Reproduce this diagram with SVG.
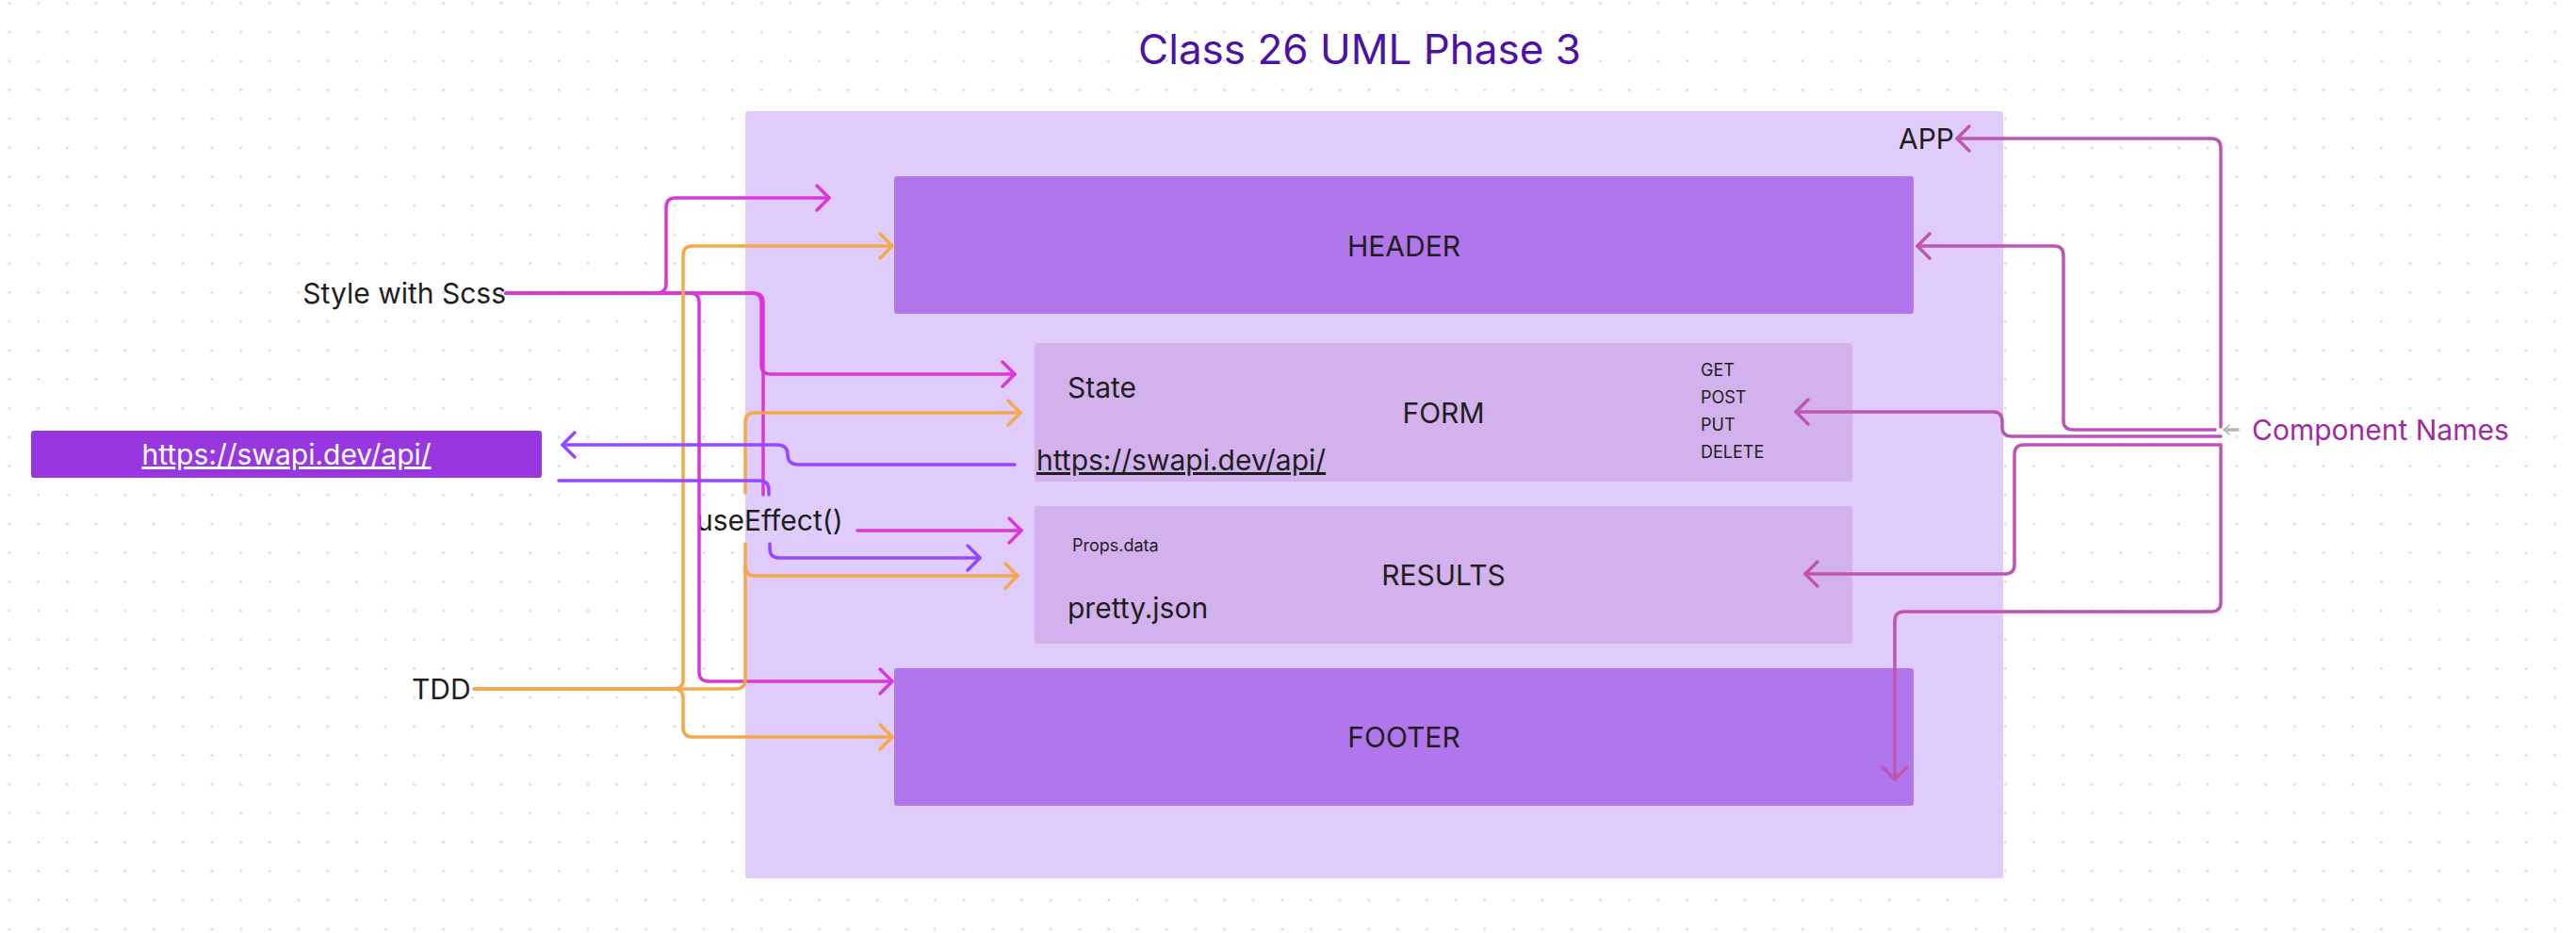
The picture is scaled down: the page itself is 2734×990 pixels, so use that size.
<svg xmlns="http://www.w3.org/2000/svg" width="2734" height="990" viewBox="0 0 2734 990">
  <style>
    .lbl { font-family: Inter, "Liberation Sans", sans-serif; fill: #1E1E1E; }
    .big { font-size: 30px; }
    .small { font-size: 18px; }
    .c { text-anchor: middle; }
    .conn path { fill: none; stroke-width: 3.5; stroke-linecap: round; stroke-linejoin: round; }
    .mag { stroke: #DA36DA; }
    .ora { stroke: #F4A84A; }
    .pur { stroke: #9747FF; }
    .pnk { stroke: #BE55B3; }
  </style>
  <defs>
    <pattern id="dots" x="-5.35" y="-12" width="30.7" height="30.7" patternUnits="userSpaceOnUse">
      <circle cx="15.35" cy="15.35" r="1.3" fill="#D2D2D2"/>
    </pattern>
    <marker id="aMag" markerUnits="userSpaceOnUse" orient="auto" markerWidth="30" markerHeight="30" refX="0" refY="0" viewBox="-15 -15 30 30" overflow="visible">
      <path d="M-13,-13 L0,0 L-13,13" fill="none" stroke="#DA36DA" stroke-width="3.5" stroke-linecap="round" stroke-linejoin="round"/>
    </marker>
    <marker id="aOra" markerUnits="userSpaceOnUse" orient="auto" markerWidth="30" markerHeight="30" refX="0" refY="0" viewBox="-15 -15 30 30" overflow="visible">
      <path d="M-13,-13 L0,0 L-13,13" fill="none" stroke="#F4A84A" stroke-width="3.5" stroke-linecap="round" stroke-linejoin="round"/>
    </marker>
    <marker id="aPur" markerUnits="userSpaceOnUse" orient="auto" markerWidth="30" markerHeight="30" refX="0" refY="0" viewBox="-15 -15 30 30" overflow="visible">
      <path d="M-13,-13 L0,0 L-13,13" fill="none" stroke="#9747FF" stroke-width="3.5" stroke-linecap="round" stroke-linejoin="round"/>
    </marker>
    <marker id="aPnk" markerUnits="userSpaceOnUse" orient="auto" markerWidth="30" markerHeight="30" refX="0" refY="0" viewBox="-15 -15 30 30" overflow="visible">
      <path d="M-13,-13 L0,0 L-13,13" fill="none" stroke="#BE55B3" stroke-width="3.5" stroke-linecap="round" stroke-linejoin="round"/>
    </marker>
    <marker id="aGry" markerUnits="userSpaceOnUse" orient="auto" markerWidth="12" markerHeight="12" refX="0" refY="0" viewBox="-6 -6 12 12" overflow="visible">
      <path d="M-5,-5 L0,0 L-5,5" fill="none" stroke="#B5B5B5" stroke-width="1.5" stroke-linecap="round"/>
    </marker>
  </defs>

  <rect width="2734" height="990" fill="#FFFFFF"/>
  <rect width="2734" height="990" fill="url(#dots)"/>

  <text id="title" x="1443" y="68" text-anchor="middle" font-family="Inter, 'Liberation Sans', sans-serif" font-size="44" fill="#4B12A3">Class 26 UML Phase 3</text>

  <g id="app">
    <rect x="791" y="118" width="1335" height="814" rx="3" fill="#E0CCFA"/>
    <text class="lbl big" x="2015" y="158">APP</text>
  </g>

  <g id="header">
    <rect x="949" y="187" width="1082" height="146" rx="3" fill="#B276EC"/>
    <text class="lbl big c" x="1490" y="271.5">HEADER</text>
  </g>

  <g id="form">
    <rect x="1098" y="364" width="868" height="147" rx="3" fill="#D3B1EC"/>
    <text class="lbl big" x="1133" y="421.5">State</text>
    <text class="lbl big c" x="1532" y="448.5">FORM</text>
    <text class="lbl big" x="1100" y="499" text-decoration="underline">https://swapi.dev/api/</text>
    <text class="lbl small" x="1805" y="399">GET</text>
    <text class="lbl small" x="1805" y="428">POST</text>
    <text class="lbl small" x="1805" y="457">PUT</text>
    <text class="lbl small" x="1805" y="486">DELETE</text>
  </g>

  <g id="results">
    <rect x="1098" y="537" width="868" height="146" rx="3" fill="#D3B1EC"/>
    <text class="lbl small" x="1138" y="585">Props.data</text>
    <text class="lbl big c" x="1532" y="620.5">RESULTS</text>
    <text class="lbl big" x="1133" y="656">pretty.json</text>
  </g>

  <g id="footer">
    <rect x="949" y="709" width="1082" height="146" rx="3" fill="#B276EC"/>
    <text class="lbl big c" x="1490" y="793">FOOTER</text>
  </g>

  <g id="swapi">
    <rect x="33" y="457" width="542" height="50" rx="3" fill="#9836E0"/>
    <text x="304" y="493" text-anchor="middle" font-family="Inter, 'Liberation Sans', sans-serif" font-size="30" fill="#FFFFFF" text-decoration="underline">https://swapi.dev/api/</text>
  </g>

  <g id="style-scss">
    <text class="lbl big" x="537" y="322" text-anchor="end">Style with Scss</text>
  </g>

  <g id="tdd">
    <text class="lbl big" x="437" y="742">TDD</text>
  </g>

  <g id="useeffect">
    <text class="lbl big" x="739" y="563">useEffect()</text>
  </g>

  <g id="component-names">
    <text x="2390" y="467" font-family="Inter, 'Liberation Sans', sans-serif" font-size="30" fill="#A02AA2">Component Names</text>
  </g>

  <g id="connectors" class="conn">
    <!-- Style with Scss (magenta) -->
    <path class="mag" d="M537,311 H697 Q707,311 707,301 V220 Q707,210 717,210 H880" marker-end="url(#aMag)"/>
    <path class="mag" d="M537,311 H732 Q742,311 742,321 V713 Q742,723 752,723 H947" marker-end="url(#aMag)"/>
    <path class="mag" d="M537,311 H798 Q808,311 808,321 V387 Q808,397 818,397 H1077" marker-end="url(#aMag)"/>
    <path class="mag" d="M537,311 H800 Q810,311 810,321 V525"/>
    <path class="mag" d="M910,563 H1084" marker-end="url(#aMag)"/>

    <!-- TDD (orange) -->
    <path class="ora" d="M503,731 H715 Q725,731 725,721 V271 Q725,261 735,261 H947" marker-end="url(#aOra)"/>
    <path class="ora" d="M715,731 Q725,731 725,741 V772 Q725,782 735,782 H947" marker-end="url(#aOra)"/>
    <path class="ora" d="M503,731 H781 Q791,731 791,721 V577"/>
    <path class="ora" d="M791,523 V448 Q791,438 801,438 H1083" marker-end="url(#aOra)"/>
    <path class="ora" d="M791,600 Q791,611 801,611 H1080" marker-end="url(#aOra)"/>

    <!-- swapi (purple) -->
    <path class="pur" d="M1077,493 H848 Q836,493 836,483 V482 Q836,472 824,472 H597" marker-end="url(#aPur)"/>
    <path class="pur" d="M593,510 H806 Q816,510 816,520 V525"/>
    <path class="pur" d="M817,577 V582 Q817,592 827,592 H1040" marker-end="url(#aPur)"/>

    <!-- Component Names (pink) -->
    <path class="pnk" d="M2357,453 V157 Q2357,147 2347,147 H2077" marker-end="url(#aPnk)"/>
    <path class="pnk" d="M2351,456 H2200 Q2190,456 2190,446 V271 Q2190,261 2180,261 H2035" marker-end="url(#aPnk)"/>
    <path class="pnk" d="M2357,463 H2135 Q2125,463 2125,453 V447 Q2125,437 2115,437 H1906" marker-end="url(#aPnk)"/>
    <path class="pnk" d="M2357,472 H2148 Q2138,472 2138,482 V599 Q2138,609 2128,609 H1916" marker-end="url(#aPnk)"/>
    <path class="pnk" d="M2357,472 V639 Q2357,649 2347,649 H2021 Q2011,649 2011,659 V827" marker-end="url(#aPnk)"/>
    <path d="M2375,456 H2361" stroke="#B5B5B5" stroke-width="1.5" marker-end="url(#aGry)"/>
  </g>
</svg>
